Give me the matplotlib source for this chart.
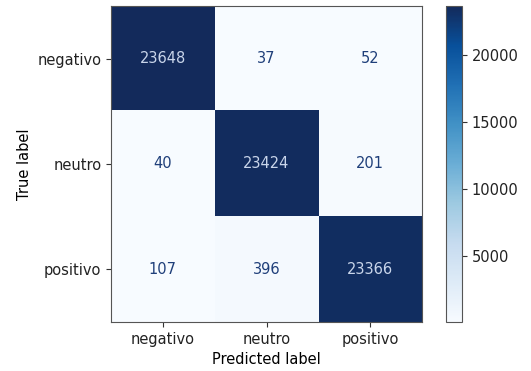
import numpy as np
import matplotlib.pyplot as plt
from matplotlib.colors import LinearSegmentedColormap

labels = ["negativo", "neutro", "positivo"]
cm = np.array([
    [23648, 37, 52],
    [40, 23424, 201],
    [107, 396, 23366],
])

fig = plt.figure(figsize=(5.31, 3.71), dpi=100)
fig.patch.set_facecolor('white')

ax = fig.add_axes([0.209, 0.132, 0.586, 0.852])
cax = fig.add_axes([0.840, 0.132, 0.030, 0.852])

# Blues, with a slightly deeper navy at the top end
blues = plt.get_cmap('Blues')
stops = [blues(x) for x in np.linspace(0, 1, 9)]
stops[-1] = '#132a5b'
cmap = LinearSegmentedColormap.from_list('blues_navy', stops)

im = ax.imshow(cm, cmap=cmap, interpolation='nearest', aspect='auto')

# text colour flips at the midpoint, like sklearn's ConfusionMatrixDisplay
thresh = (cm.max() + cm.min()) / 2.0
cmap_min, cmap_max = cmap(0), '#1f3f7a'
for i in range(cm.shape[0]):
    for j in range(cm.shape[1]):
        color = '#c9d5ea' if cm[i, j] > thresh else cmap_max
        ax.text(j, i, format(cm[i, j], 'd'), ha='center', va='center',
                color=color, fontsize=10.5)

ax.set_xticks(range(len(labels)))
ax.set_yticks(range(len(labels)))
ax.set_xticklabels(labels, fontsize=10.5)
ax.set_yticklabels(labels, fontsize=10.5)
ax.set_xlabel("Predicted label", fontsize=10.5)
ax.set_ylabel("True label", fontsize=10.5)
ax.tick_params(colors='#333333', labelcolor='#222222')
for spine in ax.spines.values():
    spine.set_color('#555555')

cb = fig.colorbar(im, cax=cax)
cb.set_ticks([5000, 10000, 15000, 20000])
cb.ax.tick_params(labelsize=10.5, colors='#333333', labelcolor='#222222')
cb.outline.set_edgecolor('#555555')

fig.savefig('out.png', dpi=100)
